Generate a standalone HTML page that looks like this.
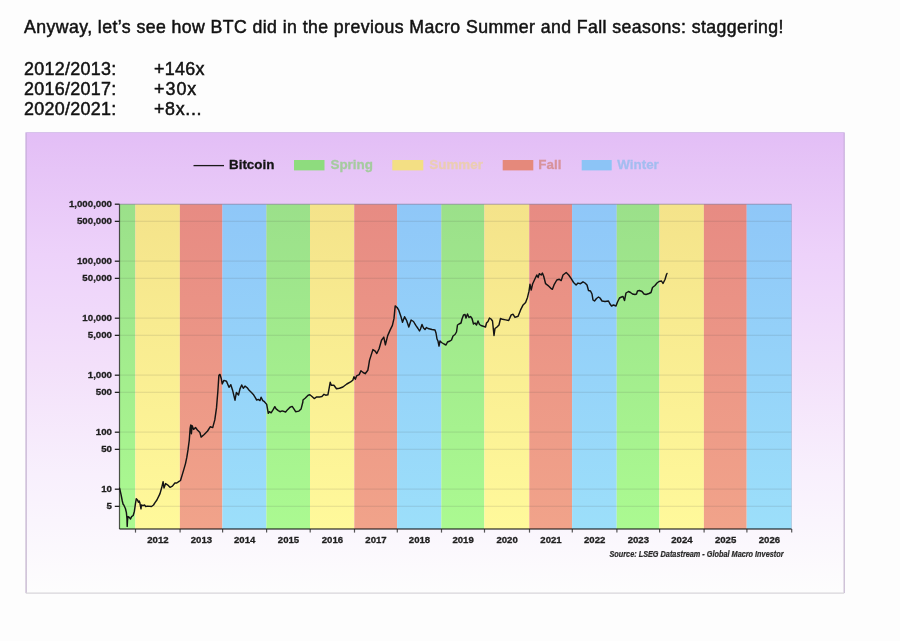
<!DOCTYPE html>
<html><head><meta charset="utf-8">
<style>
html,body{margin:0;padding:0;background:#fdfdfd;}
body{width:900px;height:641px;overflow:hidden;position:relative;font-family:"Liberation Sans",sans-serif;color:#121212;}
.t{position:absolute;left:24px;white-space:pre;font-size:17.7px;letter-spacing:0.42px;-webkit-text-stroke:0.5px #121212;}
.r{position:absolute;white-space:pre;font-size:17.9px;letter-spacing:0.3px;-webkit-text-stroke:0.5px #121212;}
svg{position:absolute;left:0;top:0;will-change:transform;filter:blur(0.35px);}
.t,.r{will-change:transform;filter:blur(0.3px);}
</style></head><body>
<div class="t" style="top:17px">Anyway, let’s see how BTC did in the previous Macro Summer and Fall seasons: staggering!</div>
<div class="t" style="top:59px;font-size:17.9px;letter-spacing:0.3px">2012/2013:</div>
<div class="t" style="top:79px;font-size:17.9px;letter-spacing:0.3px">2016/2017:</div>
<div class="t" style="top:99px;font-size:17.9px;letter-spacing:0.3px">2020/2021:</div>
<div class="r" style="left:154px;top:59px">+146x</div>
<div class="r" style="left:154px;top:79px;letter-spacing:1.0px">+30x</div>
<div class="r" style="left:154px;top:99px;letter-spacing:0.65px">+8x...</div>
<svg width="900" height="641" viewBox="0 0 900 641">
<defs>
<linearGradient id="bg" gradientUnits="userSpaceOnUse" x1="0" y1="132" x2="0" y2="593">
<stop offset="0" stop-color="rgb(226,190,246)"/>
<stop offset="0.028" stop-color="rgb(228,192,246)"/>
<stop offset="0.267" stop-color="rgb(237,210,250)"/>
<stop offset="0.505" stop-color="rgb(243,224,250)"/>
<stop offset="0.744" stop-color="rgb(248,240,253)"/>
<stop offset="1" stop-color="rgb(253,253,253)"/>
</linearGradient>
<linearGradient id="bd" gradientUnits="userSpaceOnUse" x1="0" y1="132" x2="0" y2="593">
<stop offset="0" stop-color="rgb(200,175,220)"/>
<stop offset="1" stop-color="rgb(195,180,205)"/>
</linearGradient>
<linearGradient id="gg" gradientUnits="userSpaceOnUse" x1="0" y1="204.3" x2="0" y2="529.0"><stop offset="0" stop-color="rgb(155,224,138)"/><stop offset="1" stop-color="rgb(171,250,145)"/></linearGradient><linearGradient id="gy" gradientUnits="userSpaceOnUse" x1="0" y1="204.3" x2="0" y2="529.0"><stop offset="0" stop-color="rgb(244,227,138)"/><stop offset="1" stop-color="rgb(255,249,155)"/></linearGradient><linearGradient id="gr" gradientUnits="userSpaceOnUse" x1="0" y1="204.3" x2="0" y2="529.0"><stop offset="0" stop-color="rgb(231,139,131)"/><stop offset="1" stop-color="rgb(241,163,138)"/></linearGradient><linearGradient id="gb" gradientUnits="userSpaceOnUse" x1="0" y1="204.3" x2="0" y2="529.0"><stop offset="0" stop-color="rgb(143,199,248)"/><stop offset="1" stop-color="rgb(156,223,250)"/></linearGradient>
</defs>
<rect x="25.8" y="132.5" width="818.4" height="460.6" fill="url(#bg)"/>
<line x1="26.1" y1="132.5" x2="26.1" y2="593.1" stroke="url(#bd)" stroke-width="1.3"/>
<line x1="844.2" y1="132.5" x2="844.2" y2="593.1" stroke="url(#bd)" stroke-width="1.2"/>
<line x1="25.8" y1="132.5" x2="844.2" y2="132.5" stroke="rgb(215,195,235)" stroke-width="1"/>
<line x1="25.8" y1="593.2" x2="844.2" y2="593.2" stroke="rgb(215,213,218)" stroke-width="1.3"/>
<rect x="119.50" y="204.3" width="15.80" height="324.70" fill="url(#gg)"/><rect x="135.30" y="204.3" width="44.60" height="324.70" fill="url(#gy)"/><rect x="179.90" y="204.3" width="42.50" height="324.70" fill="url(#gr)"/><rect x="222.40" y="204.3" width="44.00" height="324.70" fill="url(#gb)"/><rect x="266.40" y="204.3" width="43.60" height="324.70" fill="url(#gg)"/><rect x="310.00" y="204.3" width="44.30" height="324.70" fill="url(#gy)"/><rect x="354.30" y="204.3" width="42.80" height="324.70" fill="url(#gr)"/><rect x="397.10" y="204.3" width="44.20" height="324.70" fill="url(#gb)"/><rect x="441.30" y="204.3" width="43.00" height="324.70" fill="url(#gg)"/><rect x="484.30" y="204.3" width="45.00" height="324.70" fill="url(#gy)"/><rect x="529.30" y="204.3" width="42.80" height="324.70" fill="url(#gr)"/><rect x="572.10" y="204.3" width="44.60" height="324.70" fill="url(#gb)"/><rect x="616.70" y="204.3" width="42.70" height="324.70" fill="url(#gg)"/><rect x="659.40" y="204.3" width="44.50" height="324.70" fill="url(#gy)"/><rect x="703.90" y="204.3" width="42.80" height="324.70" fill="url(#gr)"/><rect x="746.70" y="204.3" width="44.80" height="324.70" fill="url(#gb)"/>
<line x1="119.5" y1="204.20" x2="791.5" y2="204.20" stroke="rgba(60,60,60,0.11)" stroke-width="1.3"/><line x1="119.5" y1="221.36" x2="791.5" y2="221.36" stroke="rgba(60,60,60,0.11)" stroke-width="1.3"/><line x1="119.5" y1="261.20" x2="791.5" y2="261.20" stroke="rgba(60,60,60,0.11)" stroke-width="1.3"/><line x1="119.5" y1="278.36" x2="791.5" y2="278.36" stroke="rgba(60,60,60,0.11)" stroke-width="1.3"/><line x1="119.5" y1="318.20" x2="791.5" y2="318.20" stroke="rgba(60,60,60,0.11)" stroke-width="1.3"/><line x1="119.5" y1="335.36" x2="791.5" y2="335.36" stroke="rgba(60,60,60,0.11)" stroke-width="1.3"/><line x1="119.5" y1="375.20" x2="791.5" y2="375.20" stroke="rgba(60,60,60,0.11)" stroke-width="1.3"/><line x1="119.5" y1="392.36" x2="791.5" y2="392.36" stroke="rgba(60,60,60,0.11)" stroke-width="1.3"/><line x1="119.5" y1="432.20" x2="791.5" y2="432.20" stroke="rgba(60,60,60,0.11)" stroke-width="1.3"/><line x1="119.5" y1="449.36" x2="791.5" y2="449.36" stroke="rgba(60,60,60,0.11)" stroke-width="1.3"/><line x1="119.5" y1="489.20" x2="791.5" y2="489.20" stroke="rgba(60,60,60,0.11)" stroke-width="1.3"/><line x1="119.5" y1="506.36" x2="791.5" y2="506.36" stroke="rgba(60,60,60,0.11)" stroke-width="1.3"/>
<line x1="119.5" y1="204.3" x2="791.5" y2="204.3" stroke="rgba(90,90,120,0.30)" stroke-width="1"/>
<line x1="791.5" y1="204.3" x2="791.5" y2="529.0" stroke="rgba(90,90,120,0.18)" stroke-width="1"/>
<line x1="119.5" y1="204.3" x2="119.5" y2="529.0" stroke="rgba(20,20,20,0.72)" stroke-width="1.2"/>
<line x1="119.5" y1="529.0" x2="791.5" y2="529.0" stroke="rgba(20,20,20,0.72)" stroke-width="1.4"/>
<line x1="114.8" y1="204.20" x2="119.5" y2="204.20" stroke="#222" stroke-width="1.3"/><line x1="114.8" y1="221.36" x2="119.5" y2="221.36" stroke="#222" stroke-width="1.3"/><line x1="114.8" y1="261.20" x2="119.5" y2="261.20" stroke="#222" stroke-width="1.3"/><line x1="114.8" y1="278.36" x2="119.5" y2="278.36" stroke="#222" stroke-width="1.3"/><line x1="114.8" y1="318.20" x2="119.5" y2="318.20" stroke="#222" stroke-width="1.3"/><line x1="114.8" y1="335.36" x2="119.5" y2="335.36" stroke="#222" stroke-width="1.3"/><line x1="114.8" y1="375.20" x2="119.5" y2="375.20" stroke="#222" stroke-width="1.3"/><line x1="114.8" y1="392.36" x2="119.5" y2="392.36" stroke="#222" stroke-width="1.3"/><line x1="114.8" y1="432.20" x2="119.5" y2="432.20" stroke="#222" stroke-width="1.3"/><line x1="114.8" y1="449.36" x2="119.5" y2="449.36" stroke="#222" stroke-width="1.3"/><line x1="114.8" y1="489.20" x2="119.5" y2="489.20" stroke="#222" stroke-width="1.3"/><line x1="114.8" y1="506.36" x2="119.5" y2="506.36" stroke="#222" stroke-width="1.3"/><line x1="135.50" y1="529.0" x2="135.50" y2="532.6" stroke="rgba(30,30,30,0.75)" stroke-width="1.2"/><line x1="180.10" y1="529.0" x2="180.10" y2="532.6" stroke="rgba(30,30,30,0.75)" stroke-width="1.2"/><line x1="222.60" y1="529.0" x2="222.60" y2="532.6" stroke="rgba(30,30,30,0.75)" stroke-width="1.2"/><line x1="266.60" y1="529.0" x2="266.60" y2="532.6" stroke="rgba(30,30,30,0.75)" stroke-width="1.2"/><line x1="310.20" y1="529.0" x2="310.20" y2="532.6" stroke="rgba(30,30,30,0.75)" stroke-width="1.2"/><line x1="354.50" y1="529.0" x2="354.50" y2="532.6" stroke="rgba(30,30,30,0.75)" stroke-width="1.2"/><line x1="397.30" y1="529.0" x2="397.30" y2="532.6" stroke="rgba(30,30,30,0.75)" stroke-width="1.2"/><line x1="441.50" y1="529.0" x2="441.50" y2="532.6" stroke="rgba(30,30,30,0.75)" stroke-width="1.2"/><line x1="484.50" y1="529.0" x2="484.50" y2="532.6" stroke="rgba(30,30,30,0.75)" stroke-width="1.2"/><line x1="529.50" y1="529.0" x2="529.50" y2="532.6" stroke="rgba(30,30,30,0.75)" stroke-width="1.2"/><line x1="572.30" y1="529.0" x2="572.30" y2="532.6" stroke="rgba(30,30,30,0.75)" stroke-width="1.2"/><line x1="616.90" y1="529.0" x2="616.90" y2="532.6" stroke="rgba(30,30,30,0.75)" stroke-width="1.2"/><line x1="659.60" y1="529.0" x2="659.60" y2="532.6" stroke="rgba(30,30,30,0.75)" stroke-width="1.2"/><line x1="704.10" y1="529.0" x2="704.10" y2="532.6" stroke="rgba(30,30,30,0.75)" stroke-width="1.2"/><line x1="746.90" y1="529.0" x2="746.90" y2="532.6" stroke="rgba(30,30,30,0.75)" stroke-width="1.2"/><line x1="791.70" y1="529.0" x2="791.70" y2="532.6" stroke="rgba(30,30,30,0.75)" stroke-width="1.2"/>
<g font-family="Liberation Sans" font-weight="bold" font-size="9.7" fill="#1e1e1e" stroke="#1e1e1e" stroke-width="0.3"><text x="112.0" y="0" text-anchor="end" transform="translate(0,206.80) scale(1,1)">1,000,000</text><text x="112.0" y="0" text-anchor="end" transform="translate(0,223.96) scale(1,1)">500,000</text><text x="112.0" y="0" text-anchor="end" transform="translate(0,263.80) scale(1,1)">100,000</text><text x="112.0" y="0" text-anchor="end" transform="translate(0,280.96) scale(1,1)">50,000</text><text x="112.0" y="0" text-anchor="end" transform="translate(0,320.80) scale(1,1)">10,000</text><text x="112.0" y="0" text-anchor="end" transform="translate(0,337.96) scale(1,1)">5,000</text><text x="112.0" y="0" text-anchor="end" transform="translate(0,377.80) scale(1,1)">1,000</text><text x="112.0" y="0" text-anchor="end" transform="translate(0,394.96) scale(1,1)">500</text><text x="112.0" y="0" text-anchor="end" transform="translate(0,434.80) scale(1,1)">100</text><text x="112.0" y="0" text-anchor="end" transform="translate(0,451.96) scale(1,1)">50</text><text x="112.0" y="0" text-anchor="end" transform="translate(0,491.80) scale(1,1)">10</text><text x="112.0" y="0" text-anchor="end" transform="translate(0,508.96) scale(1,1)">5</text></g>
<g font-family="Liberation Sans" font-weight="bold" font-size="9.6" fill="#1e1e1e" stroke="#1e1e1e" stroke-width="0.3"><text x="157.90" y="0" text-anchor="middle" transform="translate(0,543.4) scale(1,1)">2012</text><text x="201.45" y="0" text-anchor="middle" transform="translate(0,543.4) scale(1,1)">2013</text><text x="244.70" y="0" text-anchor="middle" transform="translate(0,543.4) scale(1,1)">2014</text><text x="288.50" y="0" text-anchor="middle" transform="translate(0,543.4) scale(1,1)">2015</text><text x="332.45" y="0" text-anchor="middle" transform="translate(0,543.4) scale(1,1)">2016</text><text x="376.00" y="0" text-anchor="middle" transform="translate(0,543.4) scale(1,1)">2017</text><text x="419.50" y="0" text-anchor="middle" transform="translate(0,543.4) scale(1,1)">2018</text><text x="463.10" y="0" text-anchor="middle" transform="translate(0,543.4) scale(1,1)">2019</text><text x="507.10" y="0" text-anchor="middle" transform="translate(0,543.4) scale(1,1)">2020</text><text x="551.00" y="0" text-anchor="middle" transform="translate(0,543.4) scale(1,1)">2021</text><text x="594.70" y="0" text-anchor="middle" transform="translate(0,543.4) scale(1,1)">2022</text><text x="638.35" y="0" text-anchor="middle" transform="translate(0,543.4) scale(1,1)">2023</text><text x="681.95" y="0" text-anchor="middle" transform="translate(0,543.4) scale(1,1)">2024</text><text x="725.60" y="0" text-anchor="middle" transform="translate(0,543.4) scale(1,1)">2025</text><text x="769.40" y="0" text-anchor="middle" transform="translate(0,543.4) scale(1,1)">2026</text></g>
<text x="783.5" y="0" transform="translate(0,556.6) scale(1,1.12)" text-anchor="end" font-family="Liberation Sans" font-weight="bold" font-style="italic" font-size="7.3" fill="#2a2a2a" stroke="#2a2a2a" stroke-width="0.2">Source: LSEG Datastream - Global Macro Investor</text>
<polyline points="119.6,488.2 121.1,494.8 122.3,501.0 123.1,504.2 123.8,505.0 125.4,508.5 126.4,512.7 127.0,519.0 127.2,526.4 127.5,520.5 128.1,516.6 129.3,517.4 130.5,519.0 131.6,516.6 133.2,515.5 134.4,511.2 135.5,503.4 136.3,498.7 137.5,499.9 138.4,502.2 139.1,501.0 139.8,502.6 141.0,508.8 141.4,505.0 143.0,505.7 144.5,505.0 145.7,506.5 147.6,506.1 151.5,506.5 153.5,505.0 155.0,502.6 156.9,500.0 160.0,493.6 161.8,487.3 163.1,481.7 164.0,488.0 165.6,483.6 167.5,484.8 170.0,487.3 172.4,486.1 174.9,483.0 176.8,483.0 178.7,481.7 180.5,480.5 182.2,474.9 183.7,469.9 185.5,463.6 186.8,457.4 188.0,449.9 189.3,440.0 190.1,428.7 190.8,425.0 191.4,433.7 192.1,425.6 193.6,429.4 195.5,427.5 197.4,430.0 199.9,432.5 201.1,437.1 204.2,434.5 207.6,431.0 210.2,426.8 212.7,427.6 214.8,419.9 216.5,407.9 217.9,390.7 218.9,375.3 220.0,374.4 221.3,378.7 222.2,383.9 223.9,380.4 226.5,381.3 229.0,387.3 230.8,384.7 232.5,389.9 235.0,400.2 236.4,392.4 238.5,395.0 240.0,388.9 241.7,385.0 243.3,388.3 245.0,386.1 247.2,387.8 249.4,390.6 251.7,392.8 253.3,394.4 255.0,397.2 256.7,400.0 258.3,399.4 260.0,400.6 261.1,397.2 262.8,400.6 264.4,401.7 266.7,404.4 268.3,413.3 269.4,411.7 271.1,412.8 273.3,409.4 274.8,406.7 276.1,408.9 278.3,410.6 280.0,411.7 282.2,410.9 285.6,412.0 287.8,409.4 290.0,407.2 292.2,406.4 293.9,408.9 295.6,411.7 298.9,411.1 301.1,408.9 302.8,402.2 303.0,400.0 305.1,398.2 308.1,395.2 309.9,394.8 312.0,396.5 314.2,398.6 316.7,396.9 320.2,396.9 321.9,396.5 324.0,394.3 325.7,395.2 327.9,394.8 329.2,387.9 330.2,382.3 331.3,385.3 333.9,385.3 336.5,388.8 339.5,388.3 342.9,387.0 346.8,384.0 350.6,381.9 352.8,380.2 354.0,376.7 355.3,379.3 356.6,375.9 359.2,374.6 360.9,370.7 363.1,372.5 365.2,373.7 367.8,370.3 368.6,366.0 369.5,360.4 372.9,349.6 375.2,351.2 376.8,353.5 379.1,348.8 381.5,340.2 383.8,337.1 385.4,344.9 387.7,335.6 390.1,330.1 392.4,325.4 394.0,318.4 395.2,305.9 397.1,307.5 398.6,309.8 401.0,316.8 402.5,322.3 404.6,316.8 406.7,320.7 408.8,327.0 411.1,320.0 413.5,321.5 415.8,325.4 418.0,328.5 419.5,331.0 420.5,329.0 422.0,324.5 423.5,328.0 425.0,329.5 426.5,327.5 428.0,328.5 430.0,329.0 432.0,329.5 435.0,330.0 436.0,333.0 437.0,339.0 438.0,341.0 439.0,346.0 440.0,341.0 441.5,342.5 444.0,344.0 446.0,345.0 447.5,342.0 450.0,341.0 451.5,340.0 453.0,336.0 455.0,334.5 456.5,332.0 457.5,325.0 459.0,324.0 461.0,323.0 462.0,319.0 463.5,315.0 465.0,314.5 466.0,318.0 467.5,314.0 469.0,317.5 470.5,316.5 472.0,318.5 473.5,324.0 475.0,323.0 476.5,325.0 478.0,321.0 479.5,324.5 481.0,325.5 484.0,326.5 485.5,327.0 486.5,323.0 488.0,321.5 489.5,318.0 491.0,319.0 492.5,321.0 494.0,335.5 495.0,328.5 497.0,327.0 499.0,325.0 500.5,318.5 502.5,319.3 505.6,319.9 508.7,320.5 511.2,314.9 513.1,314.3 515.0,317.4 518.1,316.2 520.6,309.9 523.1,304.9 525.6,302.4 527.5,297.4 529.0,291.2 530.0,284.3 531.2,290.0 532.7,283.7 535.0,278.7 536.8,275.0 538.1,277.5 539.3,273.7 541.2,275.0 542.4,273.1 543.7,276.2 545.6,283.7 548.1,285.6 550.6,288.1 552.4,289.3 554.3,284.3 556.8,280.0 559.3,279.3 561.2,280.6 563.0,275.0 566.2,272.5 568.7,275.0 571.2,278.7 573.6,282.5 576.1,285.0 578.0,283.1 580.5,283.7 583.0,281.8 585.0,283.0 587.0,285.0 588.5,290.5 590.5,291.0 592.0,294.0 593.0,300.0 594.5,301.0 596.5,298.5 598.5,297.0 600.0,298.0 602.0,301.0 605.0,301.5 608.5,301.0 610.0,304.0 611.5,306.0 613.5,305.0 616.0,306.0 617.5,302.0 619.5,298.0 621.5,297.0 623.0,296.5 624.5,300.5 626.0,293.0 628.5,291.5 630.5,292.5 632.5,294.0 635.0,294.5 636.5,294.0 637.5,291.0 639.5,290.5 642.0,291.5 644.0,294.0 646.0,294.5 649.0,293.5 651.0,292.5 652.5,287.5 655.0,285.5 657.0,283.0 659.0,281.5 661.5,281.0 663.0,283.5 665.0,279.5 666.5,274.5 667.0,273.5" fill="none" stroke="#141414" stroke-width="1.45" stroke-linejoin="round" stroke-linecap="round"/>
<g font-family="Liberation Sans" font-weight="bold" font-size="13.4">
<line x1="193.5" y1="165.6" x2="224" y2="165.6" stroke="#1a1a1a" stroke-width="1.3"/>
<text x="229" y="169.4" fill="#151515" stroke="#151515" stroke-width="0.3">Bitcoin</text>
<rect x="294" y="160" width="30.5" height="10.4" fill="#8edc7e"/>
<text x="330.5" y="169.4" fill="#a5cb9f" stroke="#a5cb9f" stroke-width="0.3">Spring</text>
<rect x="392.3" y="160" width="31" height="10.4" fill="#f3df84"/>
<text x="429.3" y="169.4" fill="#ebcdb2" stroke="#ebcdb2" stroke-width="0.3">Summer</text>
<rect x="502.7" y="160" width="30.6" height="10.4" fill="#e5897b"/>
<text x="538.3" y="169.4" fill="#d8939c" stroke="#d8939c" stroke-width="0.3">Fall</text>
<rect x="581.7" y="160" width="30" height="10.4" fill="#8cc4f6"/>
<text x="617.3" y="169.4" fill="#a4bdf0" stroke="#a4bdf0" stroke-width="0.3">Winter</text>
</g>
</svg>
</body></html>
